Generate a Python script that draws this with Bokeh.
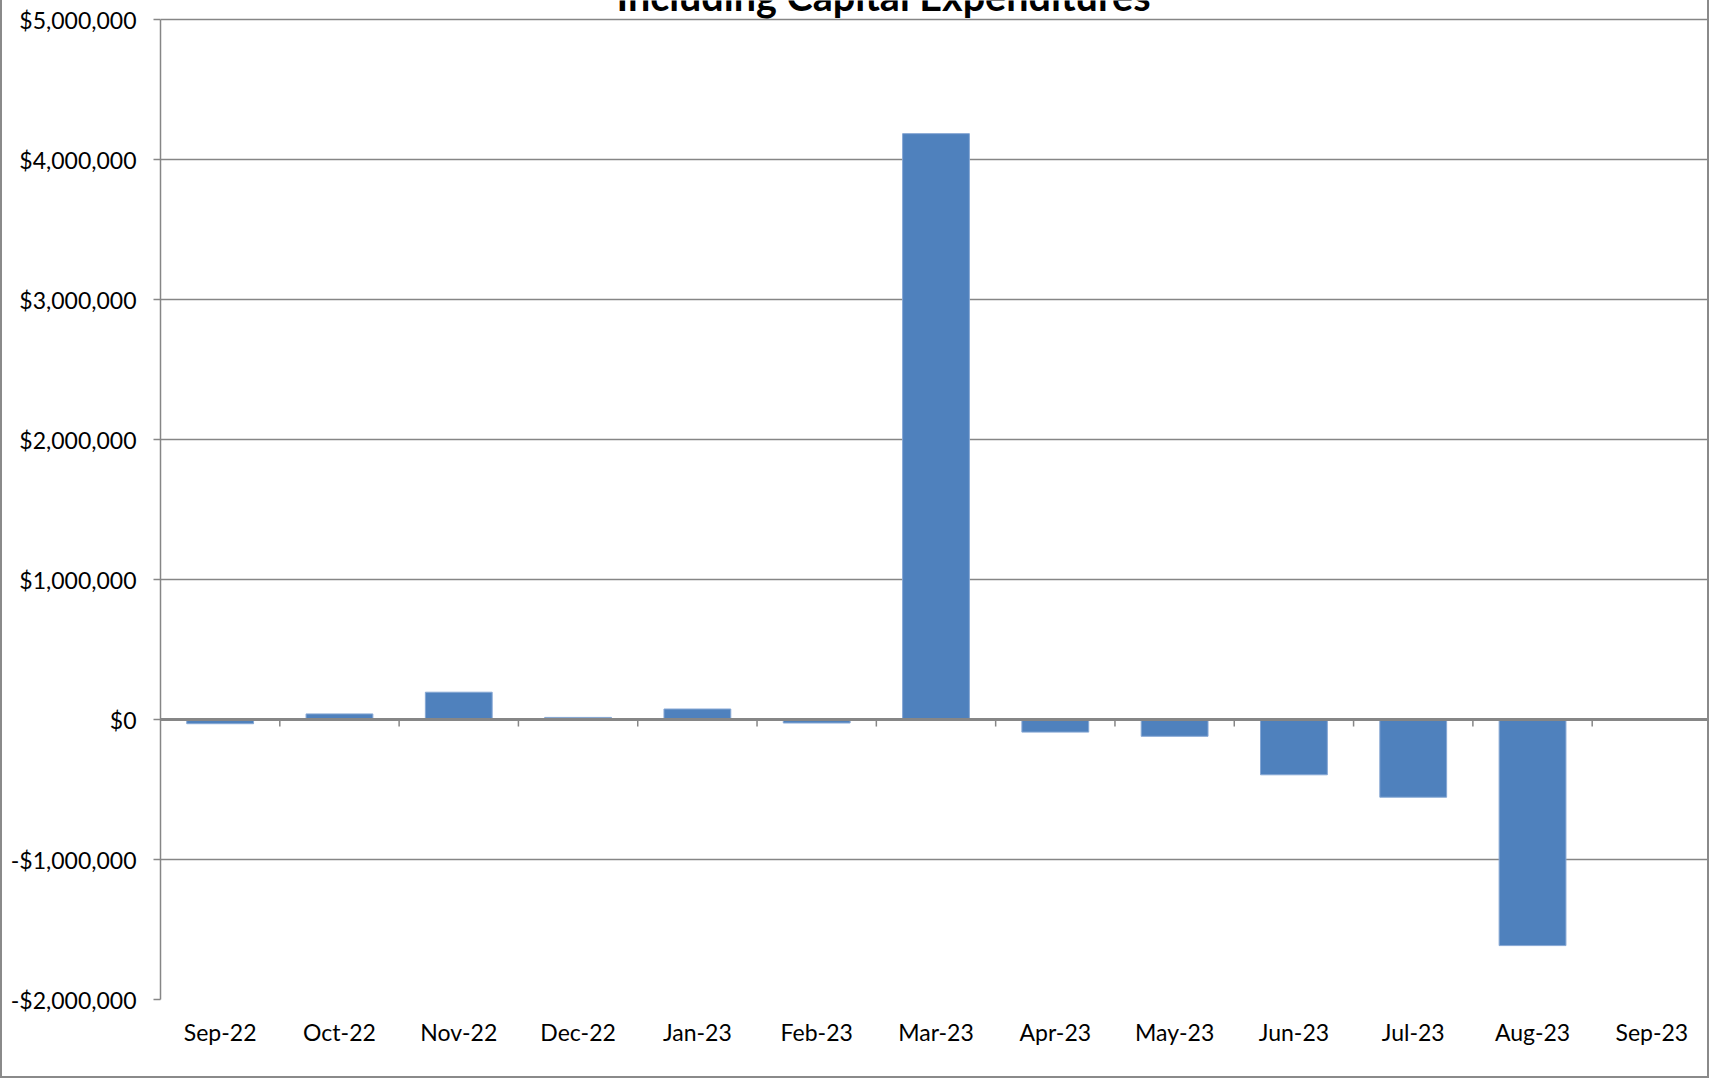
from bokeh.plotting import figure
from bokeh.models import FixedTicker, Span, Range1d
from bokeh.core.properties import value
from bokeh.embed import file_html
from bokeh.resources import INLINE

# Monthly net change, including capital expenditures
months = ["Sep-22", "Oct-22", "Nov-22", "Dec-22", "Jan-23", "Feb-23", "Mar-23",
          "Apr-23", "May-23", "Jun-23", "Jul-23", "Aug-23", "Sep-23"]
net_change = [-30000, 40000, 195000, 15000, 75000, -25000, 4185000,
              -90000, -120000, -395000, -555000, -1615000, 0]

y_ticks = [-2000000, -1000000, 0, 1000000, 2000000, 3000000, 4000000, 5000000]
y_tick_labels = ["-$2,000,000", "-$1,000,000", "$0", "$1,000,000", "$2,000,000",
                 "$3,000,000", "$4,000,000", "$5,000,000"]

title_text = "Including Capital Expenditures"

FONT = "Lato"
GRID = "#868686"
BAR = "#4F81BD"

idx = list(range(len(months)))
y_lo, y_hi = y_ticks[0], y_ticks[-1]

# the plotting area runs from the top of the canvas; the value axis spans y_lo..y_hi
head_px, frame_bottom = 19, 79
canvas_h = 1076
axis_px = canvas_h - head_px - frame_bottom
per_px = (y_hi - y_lo) / axis_px

p = figure(width=1709, height=canvas_h + 2, output_backend="svg", toolbar_location=None,
           x_range=Range1d(-0.5, len(months) - 0.5),
           y_range=Range1d(y_lo, y_hi + head_px * per_px),
           min_border_left=158, min_border_right=0,
           min_border_top=0, min_border_bottom=frame_bottom,
           background_fill_color="white", border_fill_color="white")
p.outline_line_color = None
p.styles = {"border-left": "2px solid #8a8a8a", "border-right": "2px solid #8a8a8a",
            "border-bottom": "2px solid #8a8a8a"}

# grid
p.xgrid.grid_line_color = None
p.ygrid.ticker = FixedTicker(ticks=y_ticks)
p.ygrid.grid_line_color = GRID
p.ygrid.grid_line_width = 1.5

# y axis
p.yaxis.ticker = FixedTicker(ticks=y_ticks)
p.yaxis.bounds = (y_lo, y_hi)
p.yaxis.major_label_overrides = {t: s for t, s in zip(y_ticks, y_tick_labels)}
p.yaxis.axis_line_color = GRID
p.yaxis.axis_line_width = 1.5
p.yaxis.major_tick_line_color = GRID
p.yaxis.major_tick_line_width = 1.5
p.yaxis.major_tick_out = 7
p.yaxis.major_tick_in = 0
p.yaxis.minor_tick_line_color = None
p.yaxis.major_label_standoff = 17
p.yaxis.major_label_text_font = FONT
p.yaxis.major_label_text_font_size = "23px"
p.yaxis.major_label_text_color = "black"

# x axis: month labels sit at the bottom of the chart
p.xaxis.ticker = FixedTicker(ticks=idx)
p.xaxis.major_label_overrides = {i: m for i, m in zip(idx, months)}
p.xaxis.axis_line_color = None
p.xaxis.major_tick_line_color = None
p.xaxis.minor_tick_line_color = None
p.xaxis.major_label_standoff = 12
p.xaxis.major_label_text_font = FONT
p.xaxis.major_label_text_font_size = "23px"
p.xaxis.major_label_text_color = "black"

# bars
p.vbar(x=idx, top=net_change, bottom=0, width=0.56,
       fill_color=BAR, line_color="#86a7d4", line_width=1)

# category tick marks hanging below the zero line
bounds = [i + 0.5 for i in idx[:-1]]
tick_len = 7 * per_px
p.segment(x0=bounds, y0=[0] * len(bounds), x1=bounds, y1=[-tick_len] * len(bounds),
          line_color=GRID, line_width=1.5)

# zero axis line
p.add_layout(Span(location=0, dimension="width", line_color=GRID, line_width=3))

# chart title (upper part runs off the top of the chart)
p.text(x=[5.56], y=[y_hi + 24 * per_px], text=[title_text],
       text_align="center", text_baseline="alphabetic",
       text_font=value(FONT), text_font_style="bold",
       text_font_size="39.5px", text_color="black")

open("out.html", "w").write(file_html(p, INLINE))
